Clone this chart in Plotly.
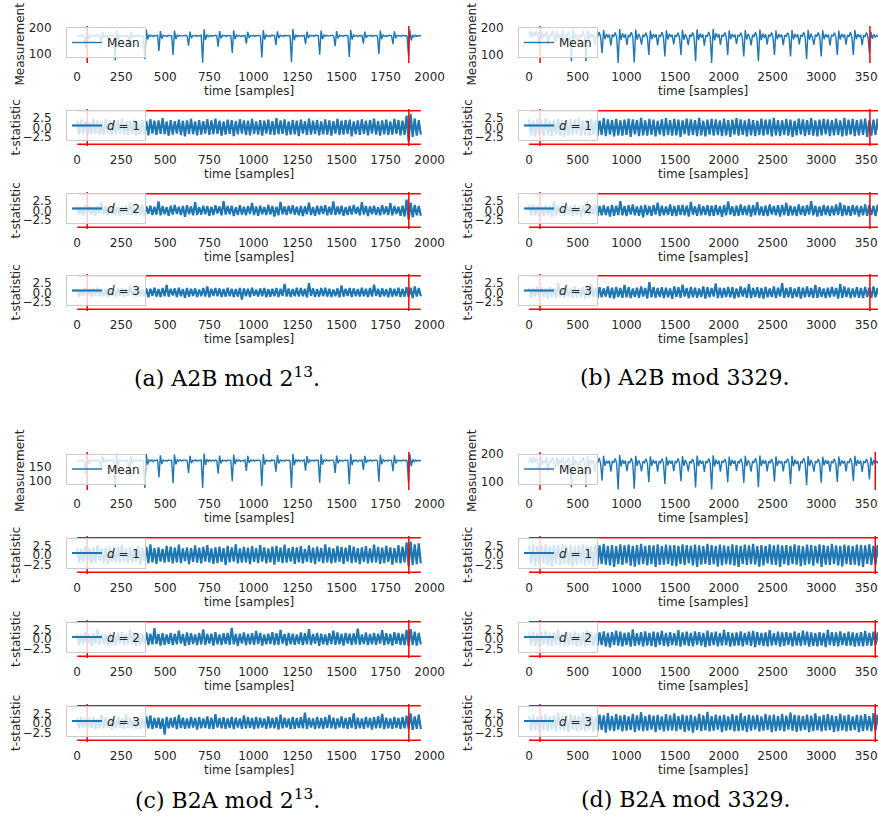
import numpy as np
import plotly.graph_objects as go

W, H = 878, 827

# ---------------- data ----------------
N_MOD2 = 1950      # samples, A2B/B2A mod 2^13
N_MOD3329 = 3600   # samples, A2B/B2A mod 3329
STEP_MOD2 = 8      # sample spacing of the mean lists
STEP_MOD3329 = 15

x_ticks_mod2 = [0, 250, 500, 750, 1000, 1250, 1500, 1750, 2000]
x_ticks_mod3329 = [0, 500, 1000, 1500, 2000, 2500, 3000, 3500]
t_ticks = [-2.5, 0.0, 2.5]
t_tick_text = ["\u22122.5", "0.0", "2.5"]
threshold = 4.5

markers_a = [57, 1882]
markers_b = [113, 3500]
markers_c = [57, 1882]
markers_d = [113, 3555]

mean_a = [
    170, 171, 169, 172, 170, 168,
    120, 190, 158, 172, 169, 171, 168, 172, 170, 171, 169,
    150, 186, 162, 171, 168, 172, 169, 171, 170, 172,
    75, 193, 155, 173, 168, 171, 167, 172, 169, 171,
    128, 186, 160, 172, 169, 171, 168, 172, 170, 171, 169,
    80, 194, 156, 173, 168, 172, 167, 171, 170, 172,
    112, 188, 159, 172, 169, 171, 168, 172, 170, 171,
    96, 190, 157, 173, 168, 172, 169, 171, 170, 172, 169,
    132, 186, 161, 171, 169, 172, 168, 171, 170, 172,
    66, 195, 154, 174, 167, 172, 168, 171, 169, 172, 170,
    128, 188, 160, 172, 169, 171, 168, 172, 170, 171,
    104, 191, 157, 173, 168, 172, 167, 171, 169, 172,
    140, 185, 162, 171, 169, 172, 168, 171, 170, 172, 169,
    86, 192, 156, 173, 168, 171, 167, 172, 170, 171,
    135, 187, 161, 172, 169, 171, 168, 172, 170, 171, 169,
    68, 196, 153, 174, 167, 172, 168, 171, 169, 172,
    138, 186, 161, 172, 169, 171, 168, 172, 170, 171,
    97, 190, 157, 173, 168, 172, 169, 171, 170, 172, 169,
    130, 188, 160, 172, 169, 171, 168, 172, 170, 171,
    88, 192, 156, 173, 168, 172, 167, 171, 169, 172,
    140, 186, 162, 171, 169, 172, 168, 171, 170, 172, 169,
    100, 190, 157, 173, 168, 171, 168, 172, 170, 171,
    138, 187, 161, 172, 169, 171, 168, 172, 170, 171, 169,
    95, 191, 152, 174, 166, 172, 168, 171, 169, 170,
]

mean_c = [
    169, 171, 170, 172, 169, 170,
    125, 189, 159, 172, 169, 171, 168, 172, 170, 171, 169,
    146, 187, 161, 171, 169, 172, 168, 171, 170, 172,
    80, 193, 154, 173, 168, 171, 167, 172, 169, 171,
    118, 186, 160, 172, 169, 171, 168, 172, 170, 171, 168,
    77, 192, 156, 173, 168, 172, 167, 171, 170, 172,
    113, 188, 158, 172, 169, 171, 168, 172, 170, 171,
    93, 190, 157, 173, 168, 172, 169, 171, 170, 172, 169,
    128, 186, 161, 171, 169, 172, 168, 171, 170, 172,
    77, 194, 155, 174, 167, 172, 168, 171, 169, 172, 170,
    125, 187, 160, 172, 169, 171, 168, 172, 170, 171,
    100, 190, 157, 173, 168, 172, 167, 171, 169, 172,
    135, 186, 162, 171, 169, 172, 168, 171, 170, 172, 169,
    84, 192, 156, 173, 168, 171, 167, 172, 170, 171,
    132, 188, 160, 172, 169, 171, 168, 172, 170, 171, 169,
    77, 193, 154, 174, 167, 172, 168, 171, 169, 172,
    136, 185, 161, 172, 169, 171, 168, 172, 170, 171,
    95, 191, 156, 173, 168, 172, 169, 171, 170, 172, 169,
    128, 187, 160, 172, 169, 171, 168, 172, 170, 171,
    90, 192, 155, 173, 168, 172, 167, 171, 169, 172,
    138, 186, 162, 171, 169, 172, 168, 171, 170, 172, 169,
    98, 189, 157, 173, 168, 171, 168, 172, 170, 171,
    134, 188, 160, 172, 169, 171, 168, 172, 170, 171, 169,
    96, 192, 150, 174, 166, 172, 168, 171, 169, 170,
]

mean_b = [
    168, 190, 165, 186, 170, 188, 167,
    140, 192, 158, 178, 166, 188, 135, 176, 168, 190, 166,
    150, 188, 160, 177, 165, 190, 138, 175, 169, 186, 167,
    77, 195, 156, 179, 164, 140, 174, 167, 189, 168,
    77, 193, 157, 178, 166, 176, 136, 173, 168, 185, 165,
    106, 192, 158, 177, 165, 175, 134, 176, 167, 183, 166,
    70, 196, 155, 180, 164, 177, 137, 174, 168, 184, 167,
    72, 194, 156, 178, 166, 138, 175, 167, 182, 165,
    100, 190, 158, 177, 165, 176, 135, 173, 169, 184, 166,
    94, 191, 157, 178, 166, 175, 139, 174, 168, 182, 165,
    100, 193, 156, 177, 165, 136, 175, 167, 183, 166,
    77, 195, 155, 179, 164, 176, 134, 173, 168, 185, 167,
    70, 196, 154, 180, 165, 177, 137, 174, 167, 183, 166,
    100, 191, 158, 177, 166, 175, 140, 173, 169, 182, 165,
    94, 192, 157, 178, 165, 135, 174, 168, 184, 166,
    77, 194, 155, 179, 164, 176, 138, 175, 167, 183, 165,
    100, 190, 158, 177, 166, 175, 136, 173, 168, 182, 167,
    94, 192, 157, 178, 165, 176, 139, 174, 167, 184, 166,
    85, 193, 156, 179, 164, 137, 175, 168, 183, 165,
    94, 191, 158, 177, 166, 175, 135, 173, 169, 182, 166,
    100, 190, 157, 178, 165, 176, 138, 174, 167, 184, 165,
    100, 192, 158, 177, 166, 175, 136, 173, 168, 183, 167,
    106, 186, 160, 176, 166, 172, 168, 170,
]

mean_d = [
    170, 188, 166, 190, 168, 186, 165,
    138, 190, 160, 177, 167, 187, 137, 175, 169, 189, 165,
    148, 189, 158, 178, 166, 188, 136, 176, 168, 187, 166,
    79, 194, 157, 178, 165, 139, 175, 168, 188, 167,
    80, 192, 156, 179, 165, 177, 135, 174, 167, 186, 166,
    104, 193, 157, 176, 166, 176, 136, 175, 168, 184, 165,
    72, 197, 154, 179, 165, 176, 138, 173, 167, 185, 166,
    75, 193, 157, 177, 165, 137, 174, 168, 183, 166,
    98, 191, 157, 178, 166, 175, 136, 174, 168, 183, 167,
    92, 190, 158, 177, 165, 176, 138, 173, 169, 184, 166,
    102, 192, 157, 178, 166, 137, 174, 168, 182, 165,
    79, 194, 156, 178, 165, 175, 135, 174, 167, 184, 166,
    72, 195, 155, 179, 164, 176, 136, 175, 168, 182, 167,
    98, 190, 157, 178, 165, 176, 139, 174, 168, 183, 166,
    95, 193, 156, 177, 166, 136, 175, 167, 185, 165,
    80, 194, 156, 178, 165, 177, 137, 174, 168, 182, 166,
    101, 191, 157, 176, 167, 174, 137, 174, 169, 183, 166,
    92, 193, 156, 179, 164, 175, 138, 173, 168, 185, 167,
    88, 192, 157, 178, 165, 136, 174, 167, 182, 166,
    96, 190, 159, 178, 165, 176, 136, 174, 168, 183, 165,
    99, 191, 156, 177, 166, 175, 137, 173, 168, 185, 166,
    102, 193, 157, 178, 165, 176, 135, 174, 167, 182, 166,
    108, 188, 159, 177, 165, 173, 167, 171,
]

a_d1 = [
    1.8, -1.9, 2.1, -1.6, 1.7, -2.2, 1.5, -1.8, 2.3, -1.7,
    1.9, -2.0, 1.6, -1.9, 2.2, -1.5, 1.8, -2.1, 1.7, -1.8,
    2.0, -1.6, 2.4, -1.9, 1.6, -2.0, 1.9, -1.7, 2.1, -2.3,
    1.5, -1.8, 2.0, -1.9, 1.7, -2.1, 2.2, -1.6, 1.8, -2.0,
    1.9, -1.7, 2.5, -1.8, 1.6, -2.2, 2.0, -1.9, 1.7, -1.6,
    2.1, -2.0, 1.8, -2.4, 1.9, -1.7, 2.3, -1.8, 1.6, -2.1,
    2.0, -1.9, 1.7, -1.6, 2.2, -2.0, 1.9, -1.8, 2.4, -1.7,
    1.8, -2.2, 1.6, -1.9, 2.1, -1.7, 2.0, -2.3, 1.7, -1.8,
    2.2, -1.6, 1.9, -2.0, 1.8, -2.1, 2.3, -1.7, 1.6, -1.9,
    2.0, -2.2, 1.8, -1.6, 2.1, -1.9, 1.7, -2.0, 2.5, -1.8,
    1.9, -1.7, 2.2, -2.1, 1.6, -1.9, 2.0, -1.8, 1.8, -2.3,
    2.1, -1.6, 1.7, -2.0, 2.4, -1.9, 1.8, -1.7, 2.0, -2.1,
    1.6, -1.8, 2.2, -1.9, 1.9, -2.2, 1.7, -1.6, 2.3, -2.0,
    1.8, -1.9, 2.0, -1.7, 2.1, -2.4, 1.6, -1.8, 1.9, -2.0,
    2.2, -1.7, 1.8, -2.1, 2.0, -1.6, 2.4, -1.9, 1.7, -2.2,
    1.9, -1.8, 2.1, -2.0, 1.6, -1.9, 2.3, -1.7, 2.0, -2.1,
    1.8, -2.0, 3.2, -3.8, 3.6, -2.5, 2.4, -2.2, 2.0, -1.9,
]
a_d2 = [
    1.2, -1.1, 0.9, -1.3, 1.4, -0.8, 1.1, -1.2, 1.0, -1.4,
    1.3, -0.9, 2.3, -1.1, 1.2, -1.3, 0.8, -1.0, 1.4, -1.2,
    1.1, -1.5, 1.0, -0.9, 1.3, -1.2, 2.1, -1.1, 0.9, -1.3,
    1.2, -1.0, 1.4, -1.6, 1.1, -0.9, 1.3, -1.2, 1.0, -1.1,
    2.4, -1.3, 1.2, -1.0, 0.9, -1.4, 1.3, -1.1, 1.5, -0.9,
    1.0, -1.2, 1.2, -1.7, 1.4, -1.0, 1.1, -1.3, 2.2, -1.2,
    0.9, -1.1, 1.3, -1.0, 1.2, -1.4, 1.0, -1.2, 1.4, -0.8,
    1.1, -1.3, 2.5, -1.1, 1.2, -1.0, 1.3, -1.5, 0.9, -1.2,
    1.4, -1.1, 1.0, -1.3, 1.2, -0.9, 2.0, -1.2, 1.1, -1.4,
    1.3, -1.0, 0.9, -1.2, 1.5, -1.1, 1.2, -1.6, 1.0, -1.3,
    2.3, -1.0, 1.1, -1.2, 1.3, -0.9, 1.4, -1.1, 1.0, -1.3,
    1.2, -1.5, 1.1, -1.0, 2.1, -1.2, 0.9, -1.4, 1.3, -1.1,
    1.2, -0.9, 1.4, -1.3, 1.0, -1.1, 2.4, -1.2, 1.1, -1.0,
    1.3, -1.4, 0.9, -1.2, 1.2, -1.1, 1.5, -0.9, 1.0, -1.3,
    2.2, -1.1, 1.2, -1.5, 1.1, -1.0, 1.3, -1.2, 0.9, -1.3,
    1.4, -1.0, 1.1, -1.2, 2.0, -1.3, 1.2, -0.9, 1.0, -1.4,
    1.3, -1.6, 2.9, -2.4, 2.1, -1.8, 1.5, -1.3, 1.2, -1.4,
]
a_d3 = [
    1.0, -1.1, 0.8, -0.9, 1.2, -1.0, 0.9, -1.2, 1.1, -0.8,
    1.3, -1.0, 0.9, -1.1, 1.0, -1.3, 1.2, -0.9, 0.8, -1.1,
    1.1, -1.0, 1.2, -1.2, 0.9, -0.9, 1.8, -1.0, 1.0, -1.2,
    1.2, -1.1, 0.8, -1.0, 1.1, -1.3, 1.0, -0.9, 1.3, -1.1,
    0.9, -1.2, 1.2, -1.0, 2.0, -1.1, 1.0, -0.8, 1.1, -1.2,
    1.3, -1.0, 0.9, -1.4, 1.2, -1.1, 1.0, -0.9, 1.1, -1.2,
    0.8, -1.0, 1.2, -1.1, 1.6, -1.3, 1.0, -0.9, 1.2, -1.0,
    1.1, -1.2, 0.9, -1.1, 1.3, -1.0, 1.0, -1.2, 0.9, -1.1,
    1.2, -1.9, 1.1, -1.0, 1.0, -1.2, 1.3, -0.9, 0.8, -1.1,
    1.1, -1.0, 1.2, -1.3, 0.9, -1.1, 1.0, -1.0, 1.2, -1.2,
    1.0, -0.9, 2.3, -1.1, 1.1, -1.2, 0.9, -1.0, 1.3, -1.1,
    1.2, -1.0, 1.0, -1.3, 2.5, -0.9, 1.1, -1.2, 0.9, -1.1,
    1.2, -1.0, 1.3, -1.1, 1.0, -1.2, 0.8, -1.0, 1.1, -1.3,
    1.9, -1.1, 1.0, -0.9, 1.2, -1.2, 1.1, -1.0, 0.9, -1.1,
    1.3, -1.0, 1.0, -1.2, 1.2, -1.1, 2.1, -0.9, 1.0, -1.2,
    1.1, -1.0, 0.9, -1.3, 1.2, -1.1, 1.0, -1.0, 1.3, -1.2,
    1.0, -1.1, 1.4, -1.2, 1.3, -1.5, 1.6, -1.1, 1.2, -1.0,
]
b_d1 = [
    2.2, -2.1, 1.9, -2.4, 2.3, -1.8, 2.0, -2.2, 2.5, -2.0,
    1.8, -2.3, 2.1, -1.9, 2.4, -2.2, 2.0, -2.5, 1.9, -2.1,
    2.3, -2.0, 2.2, -1.8, 2.6, -2.3, 1.9, -2.1, 2.1, -2.4,
    2.4, -1.9, 2.0, -2.2, 1.8, -2.0, 2.5, -2.3, 2.2, -1.9,
    2.0, -2.4, 2.3, -2.1, 1.9, -2.2, 2.1, -2.0, 2.4, -2.5,
    2.2, -1.8, 2.0, -2.3, 2.6, -2.1, 1.9, -2.2, 2.3, -2.0,
    2.1, -2.4, 1.8, -1.9, 2.2, -2.3, 2.5, -2.0, 2.0, -2.2,
    2.3, -2.1, 2.1, -2.5, 1.9, -1.8, 2.4, -2.2, 2.2, -2.0,
    2.0, -2.3, 2.6, -2.1, 1.8, -2.4, 2.1, -1.9, 2.3, -2.2,
    2.2, -2.0, 1.9, -2.3, 2.4, -2.1, 2.0, -2.5, 2.1, -1.9,
    2.5, -2.2, 2.2, -2.0, 1.9, -2.4, 2.3, -2.1, 2.0, -2.3,
    1.8, -2.0, 2.4, -2.2, 2.1, -1.9, 2.2, -2.4, 2.6, -2.1,
    2.0, -2.3, 1.9, -2.0, 2.3, -2.2, 2.1, -2.5, 1.8, -2.1,
    2.4, -1.9, 2.2, -2.3, 2.0, -2.0, 2.5, -2.2, 1.9, -2.4,
    2.1, -2.1, 2.3, -1.8, 2.2, -2.3, 2.0, -2.1, 2.4, -2.0,
    1.9, -2.4, 2.6, -2.2, 2.1, -1.9, 2.3, -2.3, 2.0, -2.1,
    2.2, -2.0, 2.4, -2.5, 1.9, -2.2, 2.1, -2.0, 2.3, -2.2,
]
b_d2 = [
    1.4, -1.3, 1.6, -1.2, 1.3, -1.5, 1.1, -1.4, 1.5, -1.2,
    1.2, -1.6, 2.4, -1.3, 1.4, -1.1, 1.3, -1.5, 1.6, -1.2,
    1.1, -1.4, 1.5, -1.3, 1.2, -1.7, 1.4, -1.2, 2.2, -1.4,
    1.3, -1.1, 1.6, -1.5, 1.2, -1.3, 1.4, -1.2, 1.1, -1.6,
    1.5, -1.4, 1.3, -1.2, 2.5, -1.3, 1.2, -1.5, 1.4, -1.1,
    1.6, -1.3, 1.1, -1.4, 1.3, -1.8, 1.5, -1.2, 1.2, -1.4,
    1.4, -1.1, 2.1, -1.5, 1.3, -1.3, 1.1, -1.2, 1.6, -1.4,
    1.2, -1.5, 1.4, -1.2, 1.5, -1.3, 1.3, -1.6, 2.3, -1.1,
    1.1, -1.4, 1.6, -1.3, 1.2, -1.2, 1.4, -1.5, 1.3, -1.4,
    1.5, -1.2, 1.2, -1.7, 1.4, -1.3, 2.4, -1.1, 1.1, -1.5,
    1.3, -1.4, 1.6, -1.2, 1.2, -1.3, 1.5, -1.6, 1.4, -1.2,
    2.2, -1.3, 1.1, -1.4, 1.3, -1.5, 1.6, -1.1, 1.2, -1.3,
    1.4, -1.6, 1.5, -1.2, 2.0, -1.4, 1.3, -1.3, 1.1, -1.5,
    1.6, -1.2, 1.2, -1.4, 1.4, -1.1, 2.5, -1.3, 1.3, -1.6,
    1.1, -1.4, 1.5, -1.2, 1.3, -1.5, 1.2, -1.3, 1.6, -1.2,
    2.1, -1.5, 1.4, -1.3, 1.2, -1.4, 1.5, -1.1, 1.3, -1.6,
    1.2, -1.3, 1.6, -1.4, 1.4, -1.2, 1.3, -1.5, 1.5, -1.3,
]
b_d3 = [
    1.3, -1.5, 1.2, -1.1, 1.6, -1.4, 1.4, -1.2, 1.1, -1.6,
    1.5, -1.3, 1.2, -1.4, 2.6, -1.2, 1.3, -1.5, 1.4, -1.1,
    1.2, -1.4, 1.6, -1.3, 1.1, -1.2, 1.5, -1.7, 1.3, -1.4,
    2.2, -1.2, 1.2, -1.5, 1.4, -1.3, 1.1, -1.1, 1.6, -1.4,
    1.3, -1.6, 1.5, -1.2, 1.2, -1.4, 2.0, -1.3, 1.4, -1.5,
    1.1, -1.2, 1.3, -1.4, 1.6, -1.1, 1.2, -1.6, 2.8, -1.3,
    1.5, -1.4, 1.2, -1.2, 1.4, -1.5, 1.3, -1.3, 1.1, -1.7,
    1.6, -1.2, 1.4, -1.4, 2.1, -1.1, 1.2, -1.5, 1.5, -1.3,
    1.3, -1.4, 1.1, -1.2, 1.6, -1.6, 1.4, -1.3, 1.2, -1.1,
    2.4, -1.5, 1.3, -1.4, 1.2, -1.2, 1.5, -1.3, 1.4, -1.6,
    1.1, -1.3, 1.6, -1.1, 1.3, -1.4, 2.2, -1.5, 1.2, -1.2,
    1.4, -1.4, 1.2, -1.6, 1.5, -1.3, 1.1, -1.2, 1.6, -1.5,
    1.3, -1.1, 2.5, -1.4, 1.2, -1.3, 1.4, -1.5, 1.1, -1.2,
    1.5, -1.6, 1.3, -1.3, 1.6, -1.2, 1.2, -1.4, 2.0, -1.4,
    1.4, -1.2, 1.1, -1.5, 1.3, -1.3, 1.5, -1.1, 1.2, -1.6,
    2.3, -1.4, 1.6, -1.2, 1.3, -1.5, 1.1, -1.3, 1.4, -1.4,
    1.2, -1.5, 1.5, -1.2, 1.3, -1.4, 1.6, -1.3, 1.2, -1.5,
]
c_d1 = [
    1.9, -2.0, 1.6, -1.8, 2.3, -1.7, 1.8, -2.2, 2.0, -1.9,
    2.6, -1.6, 1.7, -2.1, 1.9, -2.4, 2.2, -1.8, 1.6, -2.0,
    2.1, -1.9, 2.7, -1.7, 1.8, -2.2, 2.0, -2.0, 1.7, -1.8,
    2.3, -2.5, 1.9, -1.6, 2.1, -2.1, 2.8, -1.9, 1.8, -2.3,
    2.0, -1.7, 1.6, -2.0, 2.4, -1.8, 2.2, -2.2, 1.9, -1.9,
    2.7, -2.1, 1.7, -1.6, 2.0, -2.4, 1.8, -1.8, 2.5, -2.0,
    1.9, -2.2, 2.1, -1.7, 2.6, -1.9, 1.7, -2.3, 2.0, -2.1,
    2.2, -1.8, 1.8, -2.6, 2.4, -1.9, 2.0, -1.7, 2.8, -2.2,
    1.7, -2.0, 2.1, -1.9, 1.9, -2.4, 2.3, -1.8, 1.8, -2.1,
    2.6, -1.7, 2.0, -2.2, 1.7, -1.9, 2.2, -2.5, 2.4, -1.8,
    1.9, -2.1, 2.7, -2.0, 1.8, -1.7, 2.1, -2.3, 2.0, -1.9,
    2.3, -2.2, 1.6, -1.8, 2.5, -2.0, 1.9, -2.4, 2.2, -1.7,
    1.8, -2.1, 2.8, -1.9, 2.0, -2.2, 1.7, -2.0, 2.4, -1.8,
    2.1, -2.3, 1.9, -1.7, 2.6, -2.1, 2.2, -1.9, 1.8, -2.4,
    2.0, -1.8, 2.3, -2.2, 1.7, -2.0, 2.7, -1.9, 2.1, -2.3,
    1.9, -2.1, 2.4, -1.8, 2.0, -2.5, 1.8, -2.0, 2.6, -2.2,
    2.2, -1.9, 3.3, -3.0, 3.5, -2.6, 2.8, -2.4, 3.0, -2.2,
]
c_d2 = [
    1.4, -1.6, 1.2, -1.3, 1.7, -1.4, 1.3, -1.8, 1.5, -1.2,
    2.6, -1.5, 1.4, -1.3, 1.2, -1.7, 1.6, -1.4, 1.3, -1.5,
    1.5, -1.2, 1.8, -1.6, 1.4, -1.4, 2.3, -1.3, 1.2, -1.9,
    1.6, -1.5, 1.3, -1.2, 1.7, -1.6, 1.4, -1.4, 2.8, -1.3,
    1.3, -1.7, 1.5, -1.5, 1.2, -1.3, 1.6, -1.6, 1.4, -1.4,
    2.2, -1.2, 1.3, -1.8, 1.7, -1.5, 1.5, -1.3, 1.2, -1.6,
    1.6, -1.4, 2.5, -1.5, 1.3, -1.2, 1.4, -1.7, 1.8, -1.4,
    1.2, -1.6, 1.5, -1.3, 1.6, -1.5, 2.9, -1.4, 1.3, -1.8,
    1.4, -1.2, 1.7, -1.6, 1.3, -1.4, 1.5, -1.5, 2.1, -1.3,
    1.6, -1.7, 1.2, -1.4, 1.4, -1.3, 1.8, -1.6, 1.5, -1.5,
    2.4, -1.2, 1.3, -1.7, 1.6, -1.4, 1.4, -1.5, 1.2, -1.3,
    1.7, -1.6, 1.5, -1.4, 2.6, -1.5, 1.3, -1.2, 1.6, -1.8,
    1.4, -1.4, 1.2, -1.6, 1.5, -1.3, 2.2, -1.5, 1.7, -1.4,
    1.3, -1.7, 1.6, -1.2, 1.4, -1.6, 1.5, -1.4, 2.7, -1.5,
    1.2, -1.3, 1.7, -1.6, 1.3, -1.4, 1.6, -1.5, 1.4, -1.2,
    2.3, -1.6, 1.5, -1.4, 1.3, -1.7, 1.8, -1.3, 1.6, -1.5,
    1.4, -1.6, 2.4, -1.8, 2.6, -1.5, 1.9, -1.7, 1.6, -1.4,
]
c_d3 = [
    1.3, -1.4, 1.5, -1.2, 1.2, -1.6, 1.4, -1.3, 1.6, -1.5,
    1.2, -1.3, 2.2, -1.4, 1.5, -1.2, 1.3, -1.7, 1.4, -1.4,
    1.6, -1.2, 1.2, -1.5, 2.4, -1.3, 1.4, -1.4, 1.3, -1.6,
    1.5, -1.5, 1.2, -1.2, 1.7, -1.4, 2.0, -1.6, 1.3, -1.3,
    1.4, -1.5, 1.2, -3.0, 1.6, -1.4, 1.3, -1.2, 1.5, -1.6,
    2.1, -1.3, 1.4, -1.5, 1.2, -1.4, 1.6, -1.2, 1.3, -1.7,
    1.5, -1.4, 1.2, -1.3, 1.7, -1.5, 1.4, -1.6, 2.3, -1.2,
    1.3, -1.4, 1.5, -1.5, 1.2, -1.3, 1.6, -1.6, 1.4, -1.2,
    1.2, -1.5, 2.0, -1.4, 1.5, -1.3, 1.3, -1.6, 1.6, -1.4,
    1.4, -1.2, 1.2, -1.5, 1.7, -1.3, 1.3, -1.4, 1.5, -1.7,
    2.2, -1.4, 1.4, -1.2, 1.2, -1.6, 1.6, -1.5, 1.3, -1.3,
    1.5, -1.4, 2.7, -1.5, 1.4, -1.2, 1.2, -1.6, 1.6, -1.4,
    1.3, -1.5, 1.5, -1.3, 2.1, -1.4, 1.4, -1.6, 1.2, -1.2,
    1.7, -1.4, 1.3, -1.5, 1.5, -1.3, 2.5, -1.6, 1.4, -1.4,
    1.2, -1.5, 1.6, -1.2, 1.3, -1.7, 1.5, -1.4, 1.8, -1.3,
    2.4, -1.6, 1.4, -1.4, 1.2, -1.5, 1.6, -1.3, 1.3, -1.6,
    1.5, -1.4, 1.9, -1.6, 2.5, -1.8, 1.7, -1.5, 2.2, -1.6,
]
d_d1 = [
    2.5, -2.4, 2.7, -2.9, 2.3, -2.5, 2.6, -2.2, 2.8, -2.6,
    2.4, -3.0, 2.6, -2.3, 2.5, -2.7, 2.9, -2.4, 2.3, -2.6,
    2.7, -3.1, 2.4, -2.5, 2.6, -2.2, 2.8, -2.8, 2.5, -2.4,
    2.3, -3.0, 2.7, -2.6, 2.5, -2.3, 2.9, -2.5, 2.4, -2.7,
    2.6, -3.1, 2.3, -2.4, 2.8, -2.6, 2.5, -2.2, 2.7, -2.8,
    2.4, -3.0, 2.6, -2.5, 2.9, -2.3, 2.4, -2.7, 2.6, -2.4,
    2.5, -3.1, 2.8, -2.6, 2.3, -2.5, 2.7, -2.3, 2.5, -2.8,
    2.6, -2.9, 2.4, -2.4, 2.8, -2.6, 2.6, -2.2, 2.4, -2.7,
    2.7, -3.1, 2.5, -2.5, 2.3, -2.3, 2.9, -2.6, 2.6, -2.4,
    2.4, -3.0, 2.7, -2.7, 2.5, -2.4, 2.3, -2.5, 2.8, -2.8,
    2.6, -3.1, 2.4, -2.3, 2.7, -2.6, 2.5, -2.4, 2.9, -2.5,
    2.3, -3.0, 2.6, -2.7, 2.4, -2.2, 2.8, -2.5, 2.5, -2.6,
    2.7, -3.1, 2.5, -2.4, 2.6, -2.7, 2.4, -2.3, 2.8, -2.5,
    2.5, -2.9, 2.3, -2.6, 2.7, -2.4, 2.6, -2.8, 2.4, -2.2,
    2.8, -3.1, 2.6, -2.5, 2.4, -2.6, 2.9, -2.3, 2.5, -2.7,
    2.4, -3.0, 2.7, -2.4, 2.5, -2.6, 2.3, -2.5, 2.7, -2.8,
    2.6, -3.1, 2.5, -2.3, 2.8, -2.6, 2.4, -2.5, 2.6, -2.4,
]
d_d2 = [
    1.7, -1.6, 1.9, -1.8, 1.5, -2.0, 1.8, -1.5, 2.1, -1.7,
    1.6, -1.9, 1.8, -1.6, 2.3, -1.8, 1.5, -2.0, 1.9, -1.7,
    1.7, -1.5, 2.0, -1.9, 1.6, -1.8, 1.8, -2.1, 2.4, -1.6,
    1.9, -1.7, 1.5, -1.8, 1.7, -1.6, 2.0, -1.9, 1.6, -2.2,
    1.8, -1.5, 2.2, -1.7, 1.9, -1.9, 1.6, -1.6, 1.7, -2.0,
    2.5, -1.8, 1.5, -1.6, 1.8, -1.9, 2.0, -1.7, 1.6, -1.8,
    1.9, -2.1, 1.7, -1.5, 2.1, -1.8, 1.6, -1.9, 1.8, -1.6,
    1.5, -1.7, 2.3, -2.0, 1.7, -1.6, 1.9, -1.8, 1.6, -1.9,
    2.0, -1.5, 1.8, -1.7, 1.6, -2.1, 2.2, -1.8, 1.7, -1.6,
    1.9, -1.9, 1.5, -1.7, 2.4, -1.6, 1.8, -2.0, 1.6, -1.8,
    1.7, -1.7, 2.0, -1.9, 1.6, -1.5, 1.9, -1.8, 2.1, -2.1,
    1.8, -1.6, 1.6, -1.8, 1.7, -1.9, 2.3, -1.7, 1.5, -1.6,
    1.9, -2.0, 1.7, -1.8, 1.8, -1.5, 1.6, -1.9, 2.0, -1.7,
    1.6, -1.8, 2.2, -1.6, 1.9, -2.0, 1.7, -1.8, 1.5, -1.9,
    1.8, -1.7, 1.6, -2.1, 2.4, -1.6, 1.8, -1.8, 1.7, -1.9,
    2.0, -1.6, 1.5, -1.8, 1.9, -1.7, 1.7, -2.0, 1.6, -1.8,
    1.8, -1.9, 2.1, -1.7, 1.6, -1.8, 1.9, -1.6, 1.7, -1.9,
]
d_d3 = [
    1.9, -2.0, 2.2, -1.8, 1.7, -2.3, 2.0, -1.9, 2.4, -2.1,
    1.8, -1.7, 2.1, -2.2, 2.7, -1.9, 1.9, -2.0, 1.6, -2.4,
    2.3, -1.8, 2.0, -2.1, 1.8, -1.9, 2.5, -2.2, 1.9, -1.7,
    2.1, -2.3, 1.7, -2.0, 2.2, -1.8, 2.0, -2.5, 2.6, -1.9,
    1.8, -2.1, 2.3, -1.7, 1.9, -2.2, 2.1, -2.0, 1.7, -1.8,
    2.4, -2.3, 2.0, -1.9, 2.8, -2.1, 1.8, -2.0, 2.2, -1.7,
    1.9, -2.4, 2.1, -1.8, 1.7, -2.2, 2.3, -2.0, 2.0, -1.9,
    2.5, -2.1, 1.8, -1.7, 2.2, -2.3, 1.9, -2.0, 2.1, -2.5,
    1.7, -1.8, 2.4, -2.1, 2.0, -1.9, 2.9, -2.2, 1.8, -2.0,
    2.2, -1.7, 1.9, -2.4, 2.1, -2.0, 1.7, -1.8, 2.3, -2.2,
    2.0, -2.1, 2.6, -1.9, 1.8, -2.3, 2.2, -2.0, 1.9, -1.7,
    2.1, -2.2, 1.7, -2.0, 2.4, -1.8, 2.0, -2.4, 2.2, -2.1,
    1.8, -1.9, 2.3, -2.2, 1.9, -1.7, 2.7, -2.0, 2.1, -2.3,
    2.0, -2.0, 1.8, -1.8, 2.2, -2.4, 1.9, -2.1, 2.5, -1.9,
    1.7, -2.2, 2.1, -2.0, 2.3, -1.8, 2.0, -2.3, 1.8, -2.1,
    2.4, -1.9, 1.9, -2.2, 2.2, -2.0, 1.7, -1.8, 2.1, -2.4,
    2.0, -2.1, 2.3, -1.9, 1.8, -2.2, 2.6, -2.0, 2.2, -1.8,
]

series_names = ["Mean", "<i>d</i> = 1", "<i>d</i> = 2", "<i>d</i> = 3"]
captions = ["(a) A2B mod 2<sup>13</sup>.", "(b) A2B mod 3329.",
            "(c) B2A mod 2<sup>13</sup>.", "(d) B2A mod 3329."]

# ---------------- layout (pixel geometry) ----------------
BLUE = "#1f77b4"
RED = "#ff0000"
TXT = "#262626"
FONT = "DejaVu Sans"
FS = 12

rows_top = [(26, 63), (109, 146), (192, 229), (274, 311)]
rows_bot = [(452, 490), (536, 574), (620, 658), (704, 742)]

panels = [
    dict(mean=mean_a, t=[a_d1, a_d2, a_d3], n=N_MOD2, step=STEP_MOD2, xl=60, xr=438,
         xrange=[-97.5, 2047.5], xticks=x_ticks_mod2, rows=rows_top, xtitle_x=249,
         mrange=[65, 208], mticks=[100, 200], marks=markers_a,
         cap=captions[0], cap_xy=(227, 377), ylab_x=(20, 16)),
    dict(mean=mean_b, t=[b_d1, b_d2, b_d3], n=N_MOD3329, step=STEP_MOD3329, xl=512, xr=878,
         xrange=[-175, 3583], xticks=x_ticks_mod3329, rows=rows_top, xtitle_x=703,
         mrange=[70, 207], mticks=[100, 200], marks=markers_b,
         cap=captions[1], cap_xy=(684, 377), ylab_x=(472, 468)),
    dict(mean=mean_c, t=[c_d1, c_d2, c_d3], n=N_MOD2, step=STEP_MOD2, xl=60, xr=438,
         xrange=[-97.5, 2047.5], xticks=x_ticks_mod2, rows=rows_bot, xtitle_x=249,
         mrange=[70, 199], mticks=[100, 150], marks=markers_c,
         cap=captions[2], cap_xy=(227, 799), ylab_x=(20, 16)),
    dict(mean=mean_d, t=[d_d1, d_d2, d_d3], n=N_MOD3329, step=STEP_MOD3329, xl=512, xr=878,
         xrange=[-175, 3583], xticks=x_ticks_mod3329, rows=rows_bot, xtitle_x=703,
         mrange=[70, 207], mticks=[100, 200], marks=markers_d,
         cap=captions[3], cap_xy=(685, 799), ylab_x=(472, 468)),
]

fig = go.Figure()
layout = dict(width=W, height=H, margin=dict(l=0, r=0, t=0, b=0, pad=0, autoexpand=False),
              autosize=False, paper_bgcolor="white", plot_bgcolor="white", showlegend=True,
              font=dict(family=FONT, color=TXT, size=FS))
shapes, annotations = [], []


def px_x(v):
    return v / W


def px_y(v):
    return 1 - v / H


for pi, p in enumerate(panels):
    for r in range(4):
        k = pi * 4 + r + 1
        sfx = "" if k == 1 else str(k)
        xid, yid = "x" + sfx, "y" + sfx
        top, bot = p["rows"][r]
        lg = "legend" + sfx

        if r == 0:
            yv = p["mean"]
            xv = np.arange(len(yv)) * p["step"]
            yrange, ytv, ytt = p["mrange"], p["mticks"], [str(t) for t in p["mticks"]]
            lw = 1.4
        else:
            yv = p["t"][r - 1]
            xv = np.linspace(0, p["n"], len(yv))
            yrange, ytv, ytt = [-4.95, 4.95], t_ticks, t_tick_text
            lw = 2.2

        fig.add_trace(go.Scatter(x=xv, y=yv, mode="lines", name=series_names[r],
                                 line=dict(color=BLUE, width=lw),
                                 xaxis=xid, yaxis=yid, legend=lg, showlegend=True,
                                 hoverinfo="skip"))

        layout["xaxis" + sfx] = dict(
            domain=[px_x(p["xl"]), px_x(p["xr"])], range=p["xrange"], anchor=yid,
            tickmode="array", tickvals=p["xticks"], showgrid=False, zeroline=False,
            showline=False, ticks="outside", ticklen=3, tickcolor="rgba(0,0,0,0)",
            ticklabeloverflow="allow", automargin=False,
            tickfont=dict(family=FONT, size=FS, color=TXT), fixedrange=True)
        layout["yaxis" + sfx] = dict(
            domain=[px_y(bot), px_y(top)], range=yrange, anchor=xid,
            tickmode="array", tickvals=ytv, ticktext=ytt, showgrid=False, zeroline=False,
            showline=False, ticks="outside", ticklen=5, tickcolor="rgba(0,0,0,0)",
            ticklabeloverflow="allow", automargin=False,
            tickfont=dict(family=FONT, size=FS, color=TXT), fixedrange=True)

        yref_dom = yid + " domain"
        for m in p["marks"]:
            shapes.append(dict(type="line", xref=xid, yref=yref_dom, x0=m, x1=m, y0=0, y1=1,
                               line=dict(color=RED, width=1.5), layer="above"))
        if r > 0:
            for s in (threshold, -threshold):
                shapes.append(dict(type="line", xref=xid, yref=yid, x0=0, x1=p["n"], y0=s, y1=s,
                                   line=dict(color=RED, width=1.5), layer="above"))

        layout[lg] = dict(x=px_x(p["xl"] + 6), y=px_y((top + bot) / 2 - 2),
                          xanchor="left", yanchor="middle",
                          bgcolor="rgba(255,255,255,0.8)", bordercolor="#cccccc",
                          borderwidth=1, font=dict(family=FONT, size=FS, color=TXT))

        annotations.append(dict(text="time [samples]", xref="paper", yref="paper",
                                x=px_x(p["xtitle_x"]), y=px_y(bot + 28),
                                xanchor="center", yanchor="middle", showarrow=False,
                                font=dict(family=FONT, size=FS, color=TXT)))
        ylab = "Measurement" if r == 0 else "t-statistic"
        annotations.append(dict(text=ylab, xref="paper", yref="paper",
                                x=px_x(p["ylab_x"][0] if r == 0 else p["ylab_x"][1]),
                                y=px_y((top + bot) / 2), xanchor="center", yanchor="middle",
                                textangle=-90, showarrow=False,
                                font=dict(family=FONT, size=FS, color=TXT)))

    annotations.append(dict(text=p["cap"], xref="paper", yref="paper",
                            x=px_x(p["cap_xy"][0]), y=px_y(p["cap_xy"][1]),
                            xanchor="center", yanchor="middle", showarrow=False,
                            font=dict(family="DejaVu Serif", size=22, color="#000000")))

layout["shapes"] = shapes
layout["annotations"] = annotations
fig.update_layout(**layout)
fig.write_html("out.html")
